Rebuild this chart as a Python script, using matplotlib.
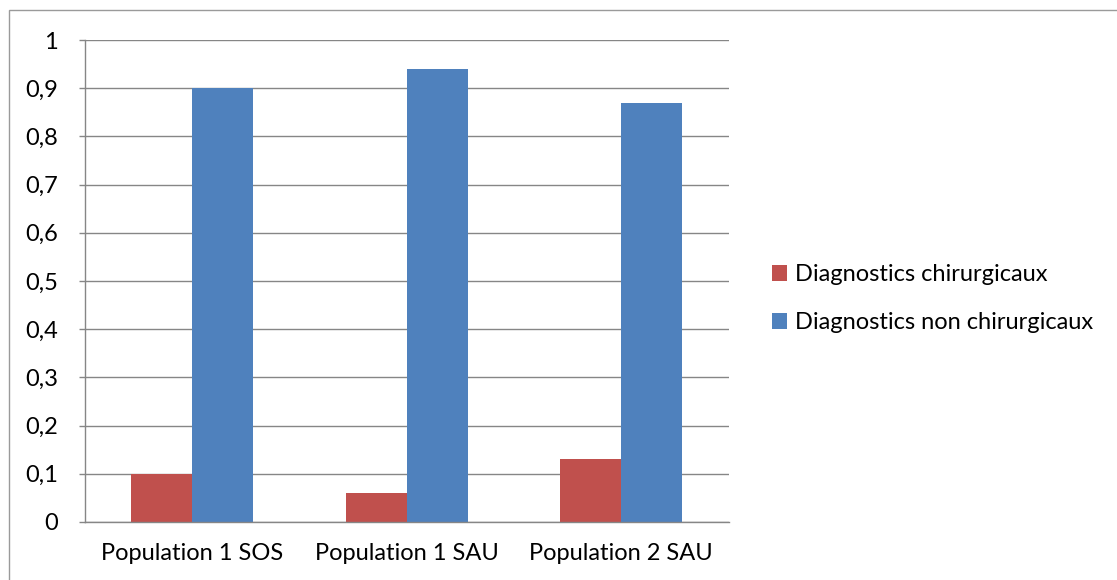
import matplotlib.pyplot as plt
import matplotlib.patches as patches
import numpy as np

# data
categories = ["Population 1 SOS", "Population 1 SAU", "Population 2 SAU"]
chirurgicaux = [0.10, 0.06, 0.13]
non_chirurgicaux = [0.90, 0.94, 0.87]
series_names = ["Diagnostics chirurgicaux", "Diagnostics non chirurgicaux"]
y_ticks = [0, 0.1, 0.2, 0.3, 0.4, 0.5, 0.6, 0.7, 0.8, 0.9, 1]
y_labels = ["0", "0,1", "0,2", "0,3", "0,4", "0,5", "0,6", "0,7", "0,8", "0,9", "1"]

red = "#C0504D"
blue = "#4F81BD"
grid_color = "#868686"
fs = 17

plt.rcParams["font.family"] = ["Lato", "DejaVu Sans"]

fig = plt.figure(figsize=(11.17, 5.8), dpi=100)
ax = fig.add_axes([0.0757, 0.1, 0.5767, 0.831])

# outer chart border
fig.patches.append(patches.Rectangle((9 / 1117, -0.01), 1.0, 1 - 10 / 580 + 0.01,
                                     transform=fig.transFigure, fill=False,
                                     edgecolor="#9a9a9a", linewidth=1.0))

x = np.arange(len(categories))
w = 0.284
ax.bar(x - w / 2, chirurgicaux, w, color=red, label=series_names[0], zorder=3)
ax.bar(x + w / 2, non_chirurgicaux, w, color=blue, label=series_names[1], zorder=3)

ax.set_xlim(-0.5, 2.5)
ax.set_ylim(0, 1)
ax.set_yticks(y_ticks)
ax.set_yticklabels(y_labels)
ax.set_xticks(x)
ax.set_xticklabels(categories)
ax.tick_params(axis="y", length=4.3, width=1.0, color=grid_color, pad=15, labelsize=fs)
ax.tick_params(axis="x", length=0, pad=15, labelsize=fs)

ax.yaxis.grid(True, color=grid_color, linewidth=1.0, zorder=0)
for s in ["top", "right"]:
    ax.spines[s].set_visible(False)
for s in ["left", "bottom"]:
    ax.spines[s].set_color(grid_color)
    ax.spines[s].set_linewidth(1.0)
    ax.spines[s].set_zorder(4)

ax.legend(loc="center left", bbox_to_anchor=(1.053, 0.463), frameon=False,
          fontsize=fs, handlelength=0.64, handleheight=0.64,
          handletextpad=0.34, labelspacing=1.15, borderaxespad=0)

fig.savefig("out.png", dpi=100)
